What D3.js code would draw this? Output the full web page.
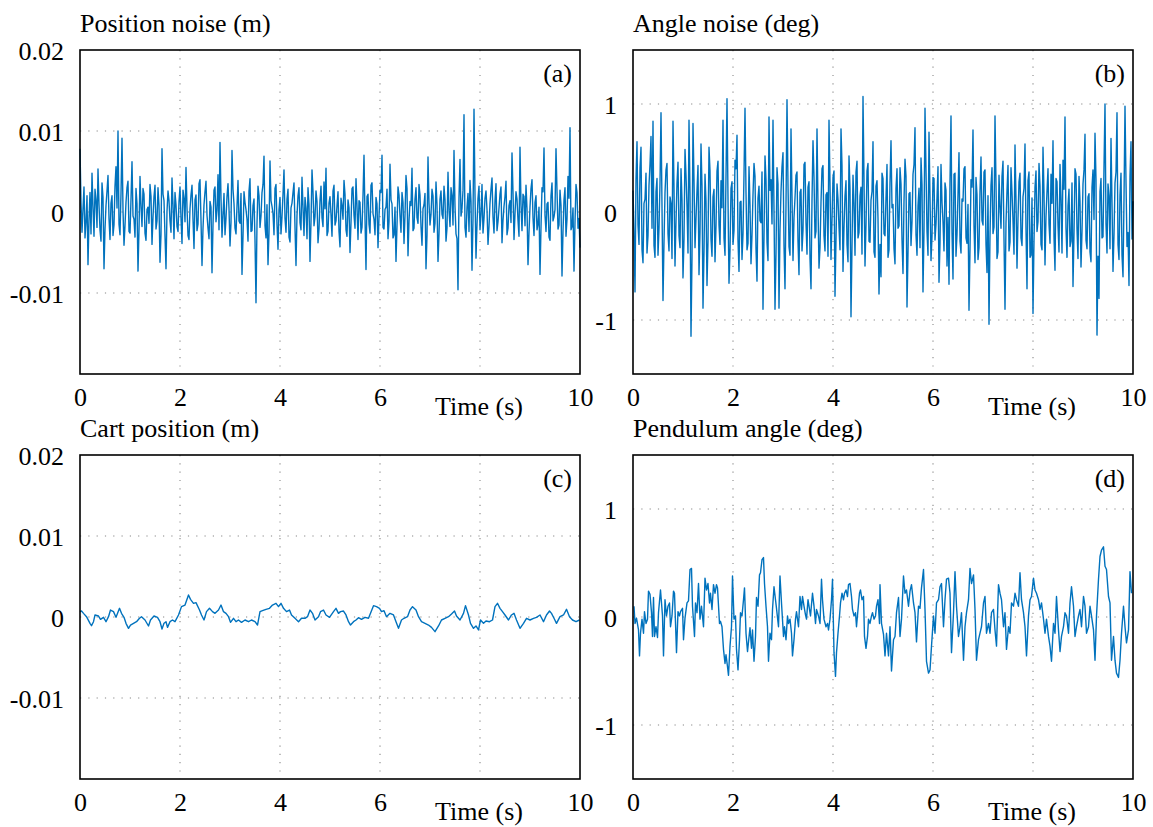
<!DOCTYPE html>
<html>
<head>
<meta charset="utf-8">
<script src="https://cdn.jsdelivr.net/npm/d3@7"></script>
<style>
  body { margin: 0; background: #fff; }
  svg text { font-family: "Liberation Serif", "Times New Roman", Times, "DejaVu Serif", serif; }
</style>
</head>
<body>
<svg id="chart" width="1153" height="827"></svg>
<script>
// x axis (seconds)
const timeTicks = [0, 2, 4, 6, 10];
const gridTimes = [2, 4, 6, 8];
const noiseStep = 0.02; // s between noise samples

// y ticks
const posTicks = [0.02, 0.01, 0, -0.01];
const posTickLabels = ["0.02", "0.01", "0", "-0.01"];
const posGrid = [0.01, 0, -0.01];
const angTicks = [1, 0, -1];
const angTickLabels = ["1", "0", "-1"];
const angGrid = [1, 0, -1];

// (a) position noise, mm
const posNoise = [
  7.8,1.2,-2.5,0.4,3.1,-3.2,-1.2,2.0,-6.5,-1.0,2.4,-2.7,4.8,0.6,-3.0,2.8,1.5,-1.9,5.3,0.9,
  -2.2,-3.6,3.6,1.8,-7.0,-2.1,0.8,2.6,4.5,-0.8,-3.4,1.1,2.0,-2.9,-1.6,3.2,5.6,0.5,10.0,-1.5,
  -2.8,2.3,9.1,0.2,-4.1,-1.7,1.2,3.0,3.8,-2.4,-2.6,1.6,6.2,-0.5,-0.9,-3.1,2.9,1.0,-7.3,-2.2,
  4.4,0.7,-1.8,2.9,2.2,-2.6,-3.5,0.3,0.6,-1.4,3.4,1.9,-4.0,-0.6,1.9,3.3,-2.1,-1.1,3.0,0.8,
  -6.2,-2.8,7.8,2.2,1.4,-3.0,-7.0,0.1,2.6,1.4,-1.1,-2.5,4.2,0.9,-3.3,2.4,0.9,-1.8,-2.4,1.3,
  3.1,-0.7,-3.9,2.7,1.7,-1.2,5.5,0.5,-2.9,-3.4,0.4,2.1,3.3,-0.9,-4.5,1.5,2.1,-2.3,-1.5,3.5,
  4.0,-1.0,-6.6,-2.0,0.9,2.5,3.8,-0.4,-2.0,-3.3,1.3,0.6,-7.5,-1.6,2.7,3.1,-1.2,0.2,4.6,-2.2,
  8.6,1.7,-3.1,-0.3,2.3,-2.8,-0.8,1.9,3.5,0.4,-4.2,-1.3,7.6,2.8,1.0,-2.0,-2.7,0.7,3.9,-1.1,
  -1.4,2.3,-7.7,-3.0,2.5,1.2,0.3,-0.9,-3.6,2.6,4.1,-2.4,-2.3,0.8,1.6,-3.5,-11.2,-1.4,3.2,2.0,
  -1.9,-0.5,2.4,3.4,6.9,-1.7,-3.2,0.9,-6.5,-2.6,6.3,1.4,0.7,-0.2,-2.8,2.9,3.4,-1.5,-4.6,0.3,
  1.8,-2.7,-0.6,2.2,5.2,-0.8,-2.5,1.6,2.8,-3.1,-3.7,0.5,1.1,2.4,3.6,-1.9,-6.6,-0.4,2.0,3.0,
  -1.3,-2.2,4.3,0.6,-2.9,1.8,0.5,-3.3,3.0,0.9,-6.1,-1.2,5.2,2.5,-1.7,-0.6,2.6,1.3,-3.8,-2.1,
  1.4,3.2,-0.7,-1.8,3.7,0.4,5.4,-2.9,-2.4,1.1,1.9,-0.3,-3.0,2.6,3.3,-1.6,-1.1,0.8,2.5,-2.4,
  -4.3,1.7,0.8,-0.9,3.9,2.2,-2.2,-3.0,1.5,0.5,-5.0,-1.3,2.9,3.1,-0.4,-2.0,4.1,0.7,-3.4,1.4,
  1.2,-2.6,-1.9,2.0,7.0,-0.8,-7.1,1.9,2.2,-1.5,-2.6,3.3,3.6,-0.2,-0.9,-2.8,1.8,1.0,-4.4,-0.6,
  2.7,2.4,7.0,-1.9,-2.1,0.3,0.6,2.8,-3.3,-1.2,5.9,1.5,1.0,-3.2,-2.8,0.6,-6.1,-1.7,3.1,2.1,
  -0.5,-2.5,2.4,1.2,-3.9,-0.4,4.5,2.9,-5.4,-1.1,1.3,0.8,5.4,-2.3,-2.0,1.6,3.0,-0.7,-1.4,3.4,
  2.1,-1.8,-4.1,0.4,0.9,2.3,-7.0,-2.9,6.8,1.1,-1.6,-0.3,2.8,2.0,-2.5,-1.4,3.7,0.9,-6.1,-2.7,
  1.6,2.6,-0.3,-0.8,3.2,1.5,-3.6,-2.0,4.9,0.2,-1.8,3.0,2.0,-1.6,7.6,0.7,-2.7,-3.3,-9.6,1.8,
  6.5,-0.5,0.4,2.7,12.0,-1.9,-3.1,0.6,2.3,-2.4,3.9,1.3,-7.2,-0.9,12.7,2.1,-5.7,-1.5,1.7,3.2,
  -2.2,-0.4,3.4,-2.6,-0.8,1.7,2.6,0.3,-4.0,-1.8,1.1,2.8,4.2,-0.6,-2.6,1.4,3.5,-2.3,-1.2,0.5,
  2.2,3.1,-3.8,-1.0,0.7,1.9,3.8,-2.8,-2.0,0.8,1.4,-1.3,7.3,2.4,-3.4,-0.2,2.5,1.6,-1.0,-3.0,
  8.0,0.9,-2.3,2.2,1.9,-1.7,3.3,0.4,-6.5,-2.5,0.6,2.9,4.0,-0.7,-2.9,1.2,2.0,-2.2,-1.5,0.6,
  -7.7,-1.9,3.0,2.5,7.9,-0.4,-2.4,1.0,1.2,-3.1,-3.5,2.0,3.6,-1.1,-0.6,0.3,7.8,2.6,-2.1,-1.6,
  2.7,0.8,-7.9,-2.4,1.5,3.0,-3.0,-0.9,4.4,1.7,10.4,-2.2,-1.8,0.5,-7.3,-1.3,3.4,2.4,-2.0,-0.8,
  -4.4
];

// (b) angle noise, deg
const angNoise = [
  0.20,-0.18,-0.74,0.30,0.65,-0.12,-0.30,0.41,0.60,-0.35,-0.47,0.08,0.12,0.36,-0.38,-0.22,0.25,0.44,0.70,-0.15,
  0.84,-0.31,-0.42,0.19,0.31,-0.40,-0.15,0.27,0.92,0.05,-0.82,-0.28,0.18,0.39,0.45,-0.20,-0.36,0.14,0.08,-0.43,
  0.84,0.22,-0.50,-0.09,0.27,0.46,-0.22,-0.33,0.40,0.11,-0.61,-0.25,0.58,0.34,0.05,-0.38,0.85,0.17,-1.15,-0.42,
  0.82,0.29,-0.33,-0.06,0.20,0.43,-0.58,-0.19,0.63,0.24,-0.89,-0.37,0.35,0.10,-0.68,-0.27,0.60,0.38,-0.25,-0.41,
  0.14,0.21,-0.46,-0.13,0.38,0.47,-0.12,-0.30,0.29,0.04,0.85,-0.24,-0.40,0.33,1.05,0.12,-0.66,-0.36,0.22,0.28,
  -0.30,-0.17,0.48,0.40,0.71,-0.26,-0.55,0.09,0.10,-0.44,-0.20,0.35,0.96,0.18,-0.35,-0.29,0.42,0.06,-0.48,-0.21,
  0.16,0.45,0.33,-0.34,-0.64,0.13,0.24,-0.08,-0.10,0.37,-0.90,-0.23,0.52,0.30,-0.28,-0.45,0.88,0.20,0.30,-0.11,
  0.85,0.02,-0.90,-0.39,0.41,0.26,-0.89,-0.16,0.19,0.42,0.55,-0.31,-0.71,0.07,1.04,0.25,-0.32,-0.40,0.77,0.15,
  -0.45,-0.05,0.13,0.34,0.37,-0.27,-0.58,0.18,0.21,-0.36,-0.17,0.44,0.46,-0.10,-0.39,0.23,0.28,-0.43,-0.71,0.11,
  0.66,0.32,-0.24,-0.18,0.77,0.06,-0.52,-0.33,0.09,0.40,0.43,-0.22,-0.36,0.16,0.18,-0.41,0.85,0.27,-0.44,-0.07,
  0.32,0.38,-0.78,-0.26,0.26,0.12,-0.14,-0.35,0.77,0.43,-0.55,-0.14,0.15,0.29,-0.30,-0.46,0.52,0.21,-0.97,-0.32,
  0.34,0.08,-0.40,0.37,0.47,-0.24,-0.19,0.15,0.23,-0.39,1.07,0.30,-0.50,-0.12,0.38,0.45,-0.27,-0.28,0.11,0.19,
  0.65,-0.37,-0.42,0.24,0.29,-0.06,-0.76,-0.30,-0.60,0.36,0.31,-0.20,-0.22,0.13,0.44,-0.42,-0.35,0.27,0.66,0.04,
  0.07,-0.34,-0.48,0.22,0.40,-0.15,-0.13,0.41,0.26,-0.26,-0.57,0.10,0.49,0.33,-0.88,-0.38,0.17,0.18,-0.31,-0.09,
  0.35,0.44,0.78,-0.21,-0.40,0.06,0.22,-0.33,0.50,0.25,-0.74,-0.17,0.96,0.39,-0.18,-0.40,0.74,0.14,-0.45,-0.23,
  0.32,0.31,-0.26,-0.11,0.13,0.42,-0.65,-0.29,0.44,0.09,-0.09,-0.36,0.27,0.20,-0.50,-0.05,-0.67,0.28,0.89,-0.19,
  -0.62,0.35,0.36,-0.41,-0.21,0.16,0.55,-0.27,-0.38,0.12,0.10,0.40,0.42,-0.24,-0.29,0.07,-0.91,-0.35,0.30,0.23,
  0.76,-0.13,-0.47,0.32,0.16,-0.44,-0.33,0.19,0.51,-0.08,-0.12,0.37,0.39,-0.30,-0.56,0.15,-1.04,-0.22,0.25,0.41,
  -0.20,-0.14,0.89,0.26,-0.43,-0.37,0.34,0.05,-0.15,0.33,0.47,-0.25,-0.90,-0.10,0.20,0.43,-0.36,-0.28,0.41,0.18,
  -0.08,-0.39,0.62,0.11,-0.52,-0.06,0.28,0.36,-0.24,-0.31,0.14,0.22,0.63,-0.16,-0.71,0.29,0.37,-0.42,-0.40,0.13,
  -0.94,-0.27,0.23,0.38,-0.18,-0.09,0.45,0.24,-0.30,-0.35,0.60,0.17,-0.49,-0.04,0.19,0.40,-0.11,-0.29,0.35,0.08,
  0.66,-0.23,-0.54,0.31,0.28,-0.12,-0.37,0.44,0.12,-0.38,0.48,0.21,0.88,-0.15,-0.42,0.06,0.21,-0.32,-0.27,0.27,
  -0.69,-0.20,0.40,0.35,-0.16,-0.43,0.33,0.10,-0.51,-0.18,0.26,0.39,0.72,-0.26,-0.34,0.14,0.17,-0.37,-0.46,0.23,
  0.39,-0.07,0.73,0.30,-1.14,-0.41,-0.80,0.19,0.31,-0.24,-0.23,0.42,1.00,-0.11,-0.38,0.26,0.15,-0.34,0.68,0.09,
  -0.55,-0.21,0.27,0.37,0.92,-0.30,-0.44,0.16,0.36,-0.40,-0.60,0.12,0.98,0.28,-0.32,-0.19,-0.68,0.33,0.65,-0.25,
  0.10
];

// (c) cart position, [time s, mm]
const cartPos = [
  [0,0.66],[0.03,0.74],[0.07,0.45],[0.13,0.04],[0.2,-0.78],[0.23,-1.07],[0.27,-0.58],[0.3,0.25],[0.37,0.12],[0.41,-0.29],
  [0.47,-0.04],[0.52,-0.58],[0.57,0.04],[0.61,0.86],[0.67,0.66],[0.72,-0.04],[0.79,1.07],[0.83,0.45],[0.88,-0.04],[0.92,-0.78],
  [0.97,-1.4],[1.01,-0.99],[1.07,-0.78],[1.13,-0.58],[1.19,-0.16],[1.23,0.04],[1.3,-0.37],[1.37,-1.11],[1.41,-0.37],[1.48,0.12],
  [1.55,-0.04],[1.6,-0.58],[1.64,-1.48],[1.68,-0.78],[1.72,-0.58],[1.75,-1.28],[1.8,-0.58],[1.85,-0.37],[1.9,-0.58],[1.97,0.25],
  [2.03,1.28],[2.1,1.48],[2.17,2.72],[2.21,2.18],[2.27,1.69],[2.32,1.77],[2.39,0.86],[2.43,0.25],[2.48,-0.37],[2.53,0.66],
  [2.59,1.07],[2.65,0.66],[2.7,0.45],[2.77,0.86],[2.82,1.48],[2.87,0.66],[2.92,0.45],[2.97,0.04],[3.01,-0.66],[3.07,-0.16],
  [3.12,-0.58],[3.17,-0.37],[3.23,-0.66],[3.3,-0.37],[3.37,-0.58],[3.43,-0.37],[3.5,-0.58],[3.55,-0.99],[3.6,0.66],[3.65,0.78],
  [3.72,0.95],[3.79,1.07],[3.85,1.48],[3.92,1.69],[3.97,1.28],[4.02,1.69],[4.07,1.07],[4.13,0.66],[4.19,0.86],[4.23,0.25],
  [4.3,-0.16],[4.37,-0.58],[4.43,-0.16],[4.5,-0.16],[4.55,0.04],[4.6,0.86],[4.65,0.45],[4.7,-0.37],[4.77,0.04],[4.81,0.66],
  [4.87,0.86],[4.92,0.25],[4.99,-0.04],[5.07,0.66],[5.12,1.07],[5.17,0.45],[5.21,0.66],[5.27,0.74],[5.32,0.25],[5.37,-0.58],
  [5.41,-0.99],[5.47,-0.58],[5.52,-0.37],[5.57,-0.08],[5.63,-0.29],[5.7,-0.04],[5.77,-0.16],[5.81,0.45],[5.87,1.4],[5.93,1.28],
  [5.99,1.07],[6.03,0.66],[6.08,0.78],[6.13,0.04],[6.2,0.45],[6.27,0.25],[6.32,-0.58],[6.37,-1.4],[6.43,-0.37],[6.48,-0.16],
  [6.55,0.04],[6.6,0.86],[6.65,1.28],[6.72,0.86],[6.77,0.04],[6.83,-0.58],[6.9,-0.78],[6.97,-0.99],[7.03,-1.28],[7.1,-1.81],
  [7.17,-1.11],[7.23,-0.37],[7.3,-0.16],[7.37,0.04],[7.43,0.37],[7.49,0.74],[7.53,0.12],[7.6,-0.37],[7.67,0.45],[7.71,1.4],
  [7.77,0.25],[7.81,-0.78],[7.87,-1.4],[7.92,-1.11],[7.97,-1.6],[8.01,-0.37],[8.07,-0.78],[8.12,-0.49],[8.19,-0.58],[8.25,-0.37],
  [8.3,1.28],[8.35,1.69],[8.4,1.07],[8.45,0.66],[8.5,0.25],[8.57,-0.37],[8.63,0.25],[8.68,0.45],[8.73,-0.37],[8.8,-1.4],
  [8.87,-0.78],[8.93,-0.16],[9.0,-0.37],[9.07,-0.16],[9.13,-0.04],[9.2,0.25],[9.27,-0.58],[9.33,0.25],[9.39,0.74],[9.43,0.45],
  [9.48,-0.16],[9.53,-0.78],[9.6,0.04],[9.67,0.25],[9.73,0.95],[9.79,0.04],[9.85,-0.37],[9.92,-0.58],[9.99,-0.37]
];

// (d) pendulum angle, [time s, deg]
const pendAngle = [
  [0.02,0.10],[0.04,-0.06],[0.07,-0.01],[0.11,-0.12],[0.13,-0.36],[0.15,-0.15],[0.18,-0.02],[0.21,-0.15],[0.23,0.05],[0.26,-0.06],
  [0.29,-0.02],[0.31,0.24],[0.34,0.21],[0.37,0.04],[0.39,-0.18],[0.41,0.18],[0.43,-0.18],[0.46,-0.09],[0.49,-0.19],[0.51,0.04],
  [0.55,0.25],[0.59,0.01],[0.61,-0.36],[0.64,0.16],[0.67,0.01],[0.70,0.10],[0.73,0.13],[0.75,-0.09],[0.78,0.01],[0.81,0.24],
  [0.83,0.22],[0.87,-0.33],[0.90,0.05],[0.93,0.01],[0.95,0.05],[0.99,0.08],[1.01,-0.21],[1.04,-0.01],[1.08,0.13],[1.11,0.15],
  [1.14,0.44],[1.17,0.45],[1.19,0.10],[1.23,-0.18],[1.25,0.13],[1.28,0.04],[1.31,0.31],[1.34,-0.02],[1.37,0.10],[1.41,-0.09],
  [1.44,0.36],[1.47,0.25],[1.50,0.31],[1.53,0.13],[1.55,0.22],[1.58,0.07],[1.61,0.30],[1.64,0.22],[1.67,0.30],[1.69,0.27],
  [1.73,-0.06],[1.75,-0.04],[1.78,-0.09],[1.81,-0.30],[1.84,-0.43],[1.86,-0.35],[1.89,-0.46],[1.91,-0.54],[1.94,-0.27],[1.97,-0.09],
  [1.99,0.38],[2.02,-0.02],[2.05,0.01],[2.07,-0.30],[2.10,-0.49],[2.13,-0.21],[2.15,0.04],[2.18,0.01],[2.21,0.16],[2.23,0.27],
  [2.26,-0.15],[2.29,-0.32],[2.31,-0.23],[2.34,-0.10],[2.37,-0.29],[2.39,-0.12],[2.42,-0.41],[2.45,-0.18],[2.47,0.18],[2.50,0.10],
  [2.53,0.39],[2.55,0.41],[2.58,0.53],[2.61,0.55],[2.63,0.31],[2.66,0.10],[2.69,-0.09],[2.71,-0.41],[2.74,-0.15],[2.77,-0.21],
  [2.79,0.07],[2.82,0.28],[2.85,0.16],[2.87,0.08],[2.91,-0.09],[2.94,0.38],[2.97,0.13],[3.01,-0.18],[3.03,-0.09],[3.06,-0.21],
  [3.09,0.01],[3.11,-0.06],[3.14,-0.02],[3.17,-0.15],[3.19,-0.36],[3.22,-0.21],[3.25,-0.02],[3.27,0.05],[3.31,-0.09],[3.34,0.19],
  [3.37,0.07],[3.39,0.19],[3.42,0.10],[3.45,0.02],[3.47,-0.02],[3.50,0.16],[3.53,0.07],[3.55,0.01],[3.59,0.22],[3.62,0.10],
  [3.65,-0.06],[3.67,0.07],[3.71,0.01],[3.74,-0.06],[3.77,0.35],[3.79,0.16],[3.82,-0.02],[3.86,-0.09],[3.89,-0.06],[3.91,-0.12],
  [3.94,-0.02],[3.97,0.16],[3.99,0.35],[4.02,-0.33],[4.05,-0.55],[4.07,-0.33],[4.10,-0.15],[4.13,0.01],[4.15,0.13],[4.18,0.22],
  [4.21,0.16],[4.23,0.22],[4.26,0.25],[4.29,0.19],[4.31,0.30],[4.34,0.31],[4.37,0.19],[4.39,0.07],[4.42,0.01],[4.45,0.04],
  [4.47,-0.09],[4.50,0.07],[4.53,0.22],[4.55,0.25],[4.58,0.16],[4.61,0.19],[4.63,-0.18],[4.66,-0.29],[4.69,-0.18],[4.71,-0.02],
  [4.74,-0.06],[4.77,0.01],[4.79,0.04],[4.82,-0.02],[4.85,0.01],[4.87,0.10],[4.90,0.16],[4.93,-0.06],[4.94,0.30],[4.97,-0.06],
  [5.01,-0.16],[5.04,-0.36],[5.07,-0.15],[5.11,-0.36],[5.14,-0.09],[5.17,-0.50],[5.21,-0.21],[5.24,-0.18],[5.27,0.04],[5.31,0.18],
  [5.34,-0.18],[5.37,-0.02],[5.41,0.38],[5.44,0.22],[5.47,0.25],[5.51,0.10],[5.54,0.24],[5.57,0.30],[5.61,0.13],[5.64,0.04],
  [5.67,-0.23],[5.71,0.10],[5.74,0.08],[5.77,0.27],[5.81,0.44],[5.84,0.07],[5.87,-0.41],[5.91,-0.52],[5.94,-0.49],[5.97,-0.27],
  [6.01,0.01],[6.04,-0.15],[6.07,0.13],[6.11,0.16],[6.14,0.28],[6.17,0.31],[6.21,-0.09],[6.24,0.16],[6.27,0.35],[6.31,0.36],
  [6.34,0.22],[6.37,-0.33],[6.41,0.04],[6.44,0.42],[6.47,0.10],[6.51,-0.18],[6.54,-0.09],[6.57,0.04],[6.61,-0.40],[6.64,-0.09],
  [6.67,0.04],[6.71,0.16],[6.74,0.45],[6.77,0.31],[6.81,0.39],[6.84,0.07],[6.87,-0.40],[6.91,-0.21],[6.94,-0.15],[6.97,-0.09],
  [7.01,0.13],[7.04,0.19],[7.07,-0.15],[7.11,-0.06],[7.14,-0.15],[7.17,0.04],[7.21,0.07],[7.24,-0.12],[7.27,-0.27],[7.31,0.30],
  [7.34,0.22],[7.37,0.16],[7.41,-0.09],[7.44,0.04],[7.47,-0.30],[7.51,-0.09],[7.54,-0.15],[7.57,0.13],[7.61,0.10],[7.64,0.22],
  [7.67,0.16],[7.71,0.10],[7.74,0.41],[7.77,0.16],[7.81,0.04],[7.84,-0.09],[7.87,-0.36],[7.91,0.01],[7.94,0.16],[7.97,0.19],
  [8.01,0.36],[8.04,0.25],[8.07,0.22],[8.11,0.16],[8.14,0.07],[8.17,0.13],[8.21,-0.02],[8.24,-0.15],[8.27,-0.02],[8.31,-0.18],
  [8.34,-0.27],[8.37,-0.41],[8.41,-0.06],[8.44,-0.15],[8.47,0.19],[8.51,-0.12],[8.54,-0.32],[8.57,-0.18],[8.61,-0.09],[8.64,0.04],
  [8.67,0.01],[8.71,-0.15],[8.74,0.13],[8.77,0.28],[8.81,0.10],[8.84,-0.18],[8.87,-0.09],[8.91,0.01],[8.94,0.07],[8.97,-0.09],
  [9.01,0.19],[9.04,0.10],[9.07,-0.15],[9.11,-0.09],[9.14,0.10],[9.17,0.01],[9.21,-0.12],[9.24,-0.40],[9.27,0.01],[9.31,0.35],
  [9.34,0.56],[9.37,0.62],[9.41,0.65],[9.44,0.47],[9.47,0.44],[9.51,0.19],[9.54,0.13],[9.57,-0.40],[9.61,-0.18],[9.64,-0.40],
  [9.67,-0.52],[9.71,-0.56],[9.74,-0.40],[9.77,-0.15],[9.81,0.10],[9.84,-0.09],[9.87,-0.24],[9.91,-0.12],[9.94,0.42],[9.97,0.22]
];

const svg = d3.select("#chart");
const plotW = 500, plotH = 324;
const lineColor = "#0072BD";
const fontSize = 26;
const serif = '"Liberation Serif", "Times New Roman", Times, "DejaVu Serif", serif';

const panels = [
  { left: 80, top: 50, title: "Position noise (m)", tag: "(a)", domain: [-0.02, 0.02],
    ticks: posTicks, labels: posTickLabels, grid: posGrid, width: 1.4,
    points: posNoise.map((v, i) => [i * noiseStep, v / 1000]) },
  { left: 633, top: 50, title: "Angle noise (deg)", tag: "(b)", domain: [-1.5, 1.5],
    ticks: angTicks, labels: angTickLabels, grid: angGrid, width: 1.4,
    points: angNoise.map((v, i) => [i * noiseStep, v]) },
  { left: 80, top: 455, title: "Cart position (m)", tag: "(c)", domain: [-0.02, 0.02],
    ticks: posTicks, labels: posTickLabels, grid: posGrid, width: 1.4,
    points: cartPos.map(([t, v]) => [t, v / 1000]) },
  { left: 633, top: 455, title: "Pendulum angle (deg)", tag: "(d)", domain: [-1.5, 1.5],
    ticks: angTicks, labels: angTickLabels, grid: angGrid, width: 1.4,
    points: pendAngle }
];

panels.forEach(p => {
  const g = svg.append("g").attr("transform", `translate(${p.left},${p.top})`);
  const x = d3.scaleLinear().domain([0, 10]).range([0, plotW]);
  const y = d3.scaleLinear().domain(p.domain).range([plotH, 0]);

  // dotted grid
  g.selectAll(".vgrid").data(gridTimes).enter().append("line")
    .attr("x1", d => x(d)).attr("x2", d => x(d))
    .attr("y1", 0).attr("y2", plotH)
    .attr("stroke", "#888").attr("stroke-width", 1.1)
    .attr("stroke-dasharray", "1.2,7.1");
  g.selectAll(".hgrid").data(p.grid).enter().append("line")
    .attr("x1", 0).attr("x2", plotW)
    .attr("y1", d => y(d)).attr("y2", d => y(d))
    .attr("stroke", "#888").attr("stroke-width", 1.1)
    .attr("stroke-dasharray", "1.2,7.1");

  // series
  const line = d3.line().x(d => x(d[0])).y(d => y(d[1]));
  g.append("path").datum(p.points)
    .attr("d", line)
    .attr("fill", "none")
    .attr("stroke", lineColor)
    .attr("stroke-width", p.width)
    .attr("stroke-linejoin", "round");

  // box
  g.append("rect").attr("width", plotW).attr("height", plotH)
    .attr("fill", "none").attr("stroke", "#000").attr("stroke-width", 1.6);

  // y axis labels
  const yAxis = g.append("g")
    .call(d3.axisLeft(y).tickValues(p.ticks).tickSize(0).tickPadding(16)
      .tickFormat((d, i) => p.labels[i]));
  yAxis.select(".domain").remove();
  yAxis.selectAll("text")
    .attr("font-family", serif)
    .attr("font-size", fontSize).attr("fill", "#000").attr("dy", "0.38em");

  // x axis labels
  const xAxis = g.append("g").attr("transform", `translate(0,${plotH})`)
    .call(d3.axisBottom(x).tickValues(timeTicks).tickSize(0).tickPadding(14)
      .tickFormat(d3.format("d")));
  xAxis.select(".domain").remove();
  xAxis.selectAll("text")
    .attr("font-family", serif)
    .attr("font-size", fontSize).attr("fill", "#000");

  g.append("text").attr("x", x(8) - 1).attr("y", plotH + 41)
    .attr("text-anchor", "middle").attr("font-family", serif)
    .attr("font-size", fontSize).text("Time (s)");

  g.append("text").attr("x", 0).attr("y", -18)
    .attr("font-family", serif).attr("font-size", fontSize).text(p.title);

  g.append("text").attr("x", plotW - 8).attr("y", 32)
    .attr("text-anchor", "end").attr("font-family", serif)
    .attr("font-size", fontSize).text(p.tag);
});
</script>
</body>
</html>
